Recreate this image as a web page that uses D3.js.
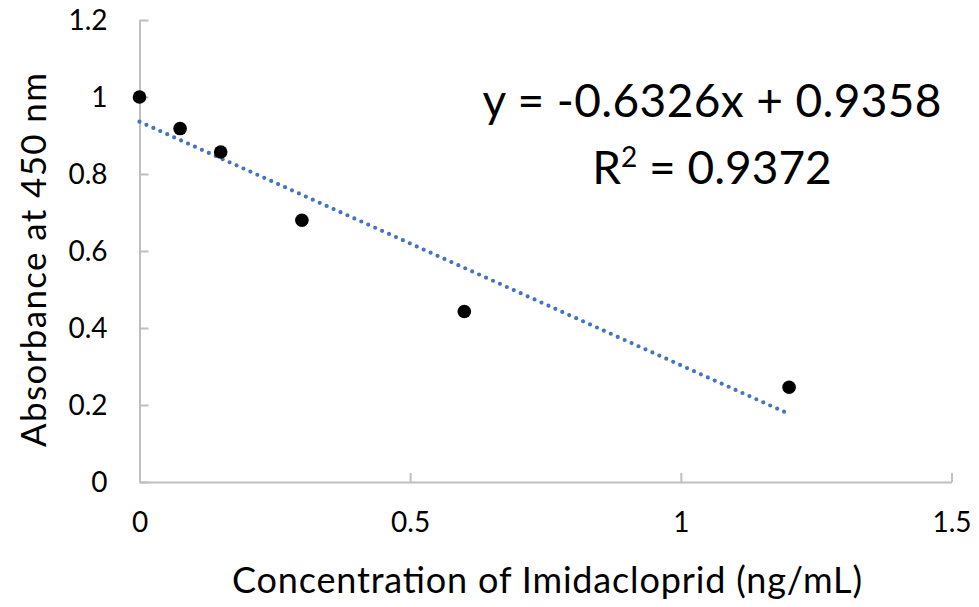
<!DOCTYPE html>
<html>
<head>
<meta charset="utf-8">
<script src="https://cdn.jsdelivr.net/npm/d3@7"></script>
<style>
  body { margin: 0; background: #fff; }
  text { font-family: Lato, "Open Sans", sans-serif; fill: #000; }
</style>
</head>
<body>
<div id="chart"></div>
<script>
// data
var concentration = [0, 0.075, 0.15, 0.3, 0.6, 1.2];
var absorbance = [1.0, 0.918, 0.857, 0.68, 0.443, 0.246];
var slope = -0.6326;
var intercept = 0.9358;
var rSquared = 0.9372;
var xTicks = [0, 0.5, 1, 1.5];
var yTicks = [0, 0.2, 0.4, 0.6, 0.8, 1, 1.2];

var width = 979, height = 607;
var svg = d3.select("#chart").append("svg")
  .attr("width", width).attr("height", height);

var xScale = d3.scaleLinear().domain([0, 1.5]).range([139.5, 951.5]);
var yScale = d3.scaleLinear().domain([0, 1.2]).range([482, 20]);

// y axis, ticks pointing inwards
svg.append("g")
  .attr("transform", "translate(" + xScale(0) + ",0)")
  .call(d3.axisLeft(yScale).tickValues(yTicks).tickSizeInner(-9).tickSizeOuter(0)
    .tickFormat(function(d){ return d; }))
  .call(function(g){
    g.select(".domain").attr("stroke", "#bfbfbf").attr("stroke-width", 2);
    g.selectAll(".tick line").attr("stroke", "#bfbfbf").attr("stroke-width", 2);
    g.selectAll(".tick text").attr("x", -32).attr("dy", "0.35em")
      .style("font-size", "28px").style("font-family", "Lato, sans-serif");
  });

// x axis, ticks pointing up
svg.append("g")
  .attr("transform", "translate(0," + yScale(0) + ")")
  .call(d3.axisBottom(xScale).tickValues(xTicks).tickSizeInner(-9).tickSizeOuter(0)
    .tickFormat(function(d){ return d; }))
  .call(function(g){
    g.select(".domain").attr("stroke", "#bfbfbf").attr("stroke-width", 2);
    g.selectAll(".tick text").attr("y", 40).attr("dy", "0.35em")
      .style("font-size", "28px").style("font-family", "Lato, sans-serif");
    g.selectAll(".tick line").attr("stroke", "#bfbfbf").attr("stroke-width", 2);
  });

// trend line
var xEnd = d3.max(concentration);
svg.append("line")
  .attr("x1", xScale(0)).attr("y1", yScale(intercept))
  .attr("x2", xScale(xEnd)).attr("y2", yScale(intercept + slope * xEnd))
  .attr("stroke", "#4472c4")
  .attr("stroke-width", 4.2)
  .attr("stroke-linecap", "round")
  .attr("stroke-dasharray", "0,7.6");

// points
svg.append("g").selectAll("circle").data(concentration).enter().append("circle")
  .attr("cx", function(d){ return xScale(d); })
  .attr("cy", function(d, i){ return yScale(absorbance[i]); })
  .attr("r", 6.8)
  .attr("fill", "#000");

// equation
svg.append("text")
  .attr("x", 712).attr("y", 117)
  .attr("text-anchor", "middle")
  .attr("textLength", 459)
  .style("font-size", "46px")
  .text("y = " + slope + "x + " + intercept);

var r2 = svg.append("text")
  .attr("x", 712).attr("y", 184)
  .attr("text-anchor", "middle")
  .style("font-size", "46px");
r2.append("tspan").text("R");
r2.append("tspan").attr("dy", -17).style("font-size", "28px").text("2");
r2.append("tspan").attr("dy", 17).text(" = " + rSquared);

// axis titles
svg.append("text")
  .attr("x", 547).attr("y", 593)
  .attr("text-anchor", "middle")
  .attr("textLength", 630)
  .style("font-size", "36px")
  .text("Concentration of Imidacloprid (ng/mL)");

svg.append("text")
  .attr("transform", "translate(46," + 260 + ") rotate(-90)")
  .attr("text-anchor", "middle")
  .attr("textLength", 374)
  .style("font-size", "35px")
  .text("Absorbance at 450 nm");
</script>
</body>
</html>
